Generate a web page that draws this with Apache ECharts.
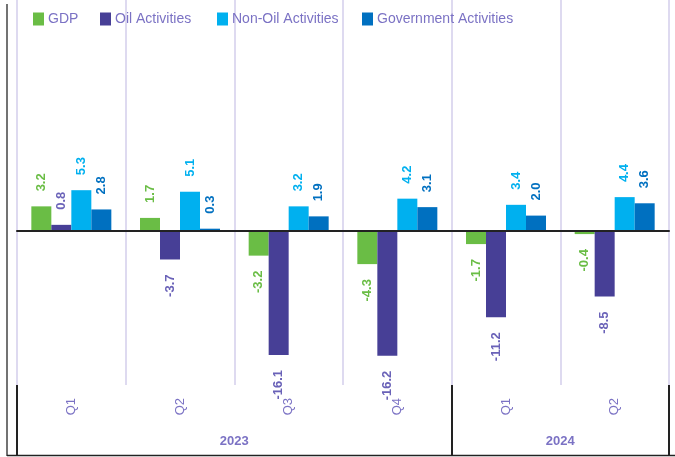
<!DOCTYPE html>
<html>
<head>
<meta charset="utf-8">
<script src="https://cdn.jsdelivr.net/npm/echarts@6/dist/echarts.min.js"></script>
<style>
  html, body { margin: 0; padding: 0; background: #fff; }
  #chart { width: 675px; height: 457px; }
</style>
</head>
<body>
<div id="chart"></div>
<script>
// categories
const quarters = ["Q1", "Q2", "Q3", "Q4", "Q1", "Q2"];
const years = ["2023", "2024"];
const yearSpans = [4, 2];

// growth values (%)
const gdp = [3.2, 1.7, -3.2, -4.3, -1.7, -0.4];
const oil = [0.8, -3.7, -16.1, -16.2, -11.2, -8.5];
const nonOil = [5.3, 5.1, 3.2, 4.2, 3.4, 4.4];
const govt = [2.8, 0.3, 1.9, 3.1, 2.0, 3.6];

const seriesNames = ["GDP", "Oil Activities", "Non-Oil Activities", "Government Activities"];
const legendLefts = [33, 100, 217, 362];

const purple = "#7b72c4";

// year boundaries / centres on a 0..6 value scale
const yearTicks = [0];
const yearCentres = [];
yearSpans.forEach((n) => {
  const start = yearTicks[yearTicks.length - 1];
  yearCentres.push(start + n / 2);
  yearTicks.push(start + n);
});

const makeSeries = (name, values, color, labelColor) => ({
  name,
  type: "bar",
  xAxisIndex: 0,
  barWidth: 20,
  barGap: "0%",
  itemStyle: { color },
  label: {
    show: true,
    rotate: 90,
    distance: 15,
    verticalAlign: "middle",
    color: labelColor,
    fontSize: 13,
    fontWeight: "bold",
    fontFamily: "Liberation Sans",
    formatter: (p) => p.value.toFixed(1),
  },
  data: values.map((v) => ({
    value: v,
    label: v < 0 ? { position: "bottom", align: "right" } : { position: "top", align: "left" },
  })),
});

const chart = echarts.init(document.getElementById("chart"));

chart.setOption({
  animation: false,
  textStyle: { fontFamily: "Liberation Sans" },
  // one legend per item so each sits where it does in the original
  legend: seriesNames.map((name, i) => ({
    left: legendLefts[i],
    top: 12,
    padding: 0,
    icon: "rect",
    itemWidth: 11,
    itemHeight: 13,
    textStyle: { color: purple, fontSize: 14, padding: [0, 0, 0, -1] },
    data: [name],
  })),
  grid: { left: 17, right: 6, top: 0, bottom: 72 },
  yAxis: { type: "value", min: -20, max: 30, show: false },
  xAxis: [
    {
      type: "category",
      data: quarters,
      position: "bottom",
      axisLine: { show: false, onZero: false },
      axisTick: { length: 31, lineStyle: { color: "#222", width: 2 } },
      axisLabel: { interval: 0, rotate: 90, margin: 13, color: purple, fontSize: 13 },
      splitLine: { show: true, lineStyle: { color: "#dedaf0", width: 2 } },
    },
    {
      type: "category",
      data: quarters,
      position: "bottom",
      z: 10,
      axisLine: { onZero: true, lineStyle: { color: "#222", width: 2 } },
      axisTick: { length: 6, lineStyle: { color: "#222", width: 2 } },
      axisLabel: { show: false },
      splitLine: { show: false },
    },
    {
      type: "value",
      min: 0,
      max: yearTicks[yearTicks.length - 1],
      position: "bottom",
      axisLine: { show: false, onZero: false },
      axisTick: { customValues: yearTicks, length: 70, lineStyle: { color: "#222", width: 2 } },
      axisLabel: {
        customValues: yearCentres,
        formatter: (v) => years[yearCentres.indexOf(v)],
        margin: 50,
        color: purple,
        fontSize: 13,
        fontWeight: "bold",
      },
      splitLine: { show: false },
    },
  ],
  graphic: [
    { type: "line", shape: { x1: 7, y1: 4, x2: 7, y2: 456 }, style: { stroke: "#444", lineWidth: 1.5 } },
    { type: "line", shape: { x1: 7, y1: 455.5, x2: 675, y2: 455.5 }, style: { stroke: "#222", lineWidth: 1.5 } },
  ],
  series: [
    makeSeries(seriesNames[0], gdp, "#6abd45", "#6abd45"),
    makeSeries(seriesNames[1], oil, "#473f96", "#6a62b8"),
    makeSeries(seriesNames[2], nonOil, "#00b0ef", "#00b0ef"),
    makeSeries(seriesNames[3], govt, "#0070c0", "#0070c0"),
  ],
});
</script>
</body>
</html>
